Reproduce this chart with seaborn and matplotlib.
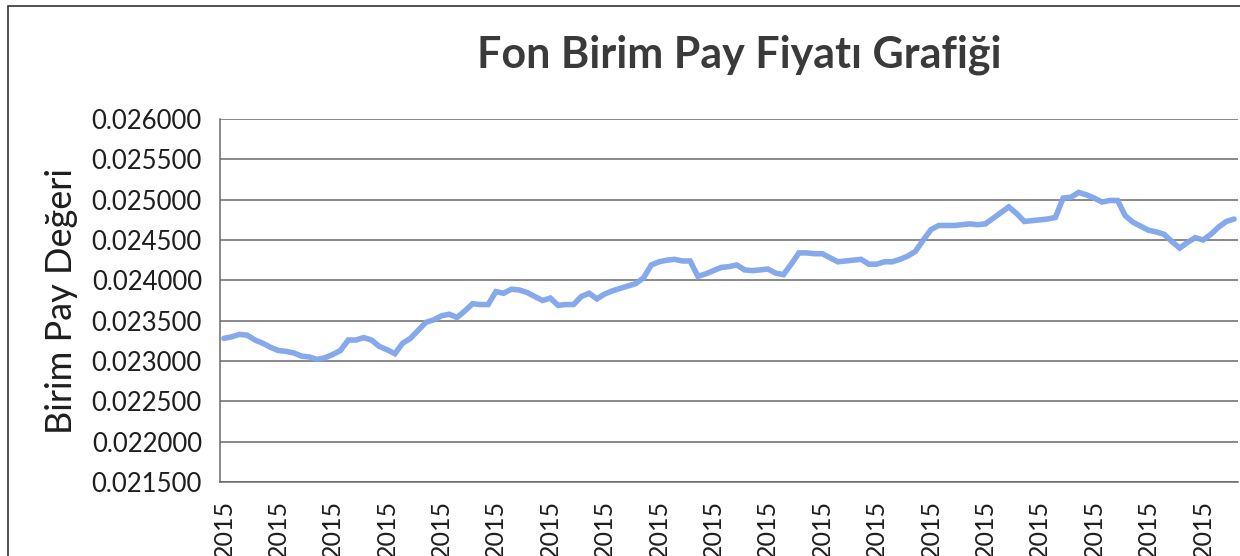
import matplotlib
matplotlib.use("Agg")
import matplotlib.pyplot as plt
import numpy as np
import pandas as pd
import seaborn as sns
from matplotlib.patches import Rectangle

sns.set_theme(style="white")
plt.rcParams["font.family"] = ["Lato", "DejaVu Sans"]

# ──────────────────────────────────────────────
# データ
# ──────────────────────────────────────────────
prices = [
    0.02328, 0.02330, 0.02333, 0.02332, 0.02326, 0.02322, 0.02317, 0.02313, 0.02312, 0.02310,
    0.02306, 0.02305, 0.02302, 0.02304, 0.02308, 0.02313, 0.02326, 0.02326, 0.02329, 0.02326,
    0.02318, 0.02314, 0.02309, 0.02322, 0.02328, 0.02338, 0.02348, 0.02351, 0.02356, 0.02358,
    0.02354, 0.02362, 0.02371, 0.02370, 0.02370, 0.02386, 0.02384, 0.02389, 0.02388, 0.02385,
    0.02380, 0.02375, 0.02378, 0.02369, 0.02370, 0.02370, 0.02380, 0.02384, 0.02377, 0.02383,
    0.02387, 0.02390, 0.02393, 0.02396, 0.02403, 0.02419, 0.02423, 0.02425, 0.02426, 0.02424,
    0.02424, 0.02405, 0.02408, 0.02412, 0.02416, 0.02417, 0.02419, 0.02413, 0.02412, 0.02413,
    0.02414, 0.02409, 0.02407, 0.02420, 0.02434, 0.02434, 0.02433, 0.02433, 0.02428, 0.02423,
    0.02424, 0.02425, 0.02426, 0.02420, 0.02420, 0.02423, 0.02423, 0.02426, 0.02430, 0.02436,
    0.02450, 0.02463, 0.02468, 0.02468, 0.02468, 0.02469, 0.02470, 0.02469, 0.02470, 0.02477,
    0.02484, 0.02491, 0.02483, 0.02473, 0.02474, 0.02475, 0.02476, 0.02478, 0.02502, 0.02503,
    0.02509, 0.02506, 0.02502, 0.02497, 0.02499, 0.02499, 0.02480, 0.02472, 0.02467, 0.02462,
    0.02460, 0.02457, 0.02448, 0.02440, 0.02447, 0.02453, 0.02450, 0.02457, 0.02466, 0.02473,
    0.02476,
]
label_step = 7
year_label = "2015"
y_ticks = [0.0215, 0.0220, 0.0225, 0.0230, 0.0235, 0.0240, 0.0245, 0.0250, 0.0255, 0.0260]

df = pd.DataFrame({"idx": np.arange(len(prices)), "price": prices})

fig = plt.figure(figsize=(12.4, 5.56), dpi=100)
ax = fig.add_axes([220 / 1240, 74 / 556, 1018 / 1240, 363 / 556])

sns.lineplot(data=df, x="idx", y="price", ax=ax, color="#7fa5ea", linewidth=4.0,
             solid_joinstyle="miter", alpha=0.95)

ax.set_xlim(-0.5, len(prices) - 0.5)
ax.set_ylim(y_ticks[0], y_ticks[-1])
ax.set_yticks(y_ticks)
ax.set_yticklabels([f"{t:.6f}" for t in y_ticks], fontsize=18.5, color="#1e1e1e")

xt = list(range(0, len(prices), label_step))
ax.set_xticks(xt)
ax.set_xticklabels([year_label] * len(xt), rotation=90, fontsize=18, color="#1e1e1e",
                   va="top")
ax.tick_params(axis="x", length=0, pad=13)
ax.tick_params(axis="y", length=0, pad=13)

ax.grid(axis="y", color="#6a6a6a", linewidth=1.1)
ax.set_axisbelow(True)
for side in ["top", "right"]:
    ax.spines[side].set_visible(False)
ax.spines["left"].set_color("#6a6a6a")
ax.spines["bottom"].set_color("#6a6a6a")
ax.spines["left"].set_linewidth(1.1)
ax.spines["bottom"].set_linewidth(1.1)

ax.set_xlabel("")
ax.set_ylabel("Birim Pay Değeri", fontsize=26, color="#1e1e1e", labelpad=10)

fig.text(739 / 1240, 1 - 55 / 556, "Fon Birim Pay Fiyatı Grafiği", ha="center", va="center",
         fontsize=31, fontweight="bold", color="#3a3a3a")

# チャート外枠
fig.patches.append(Rectangle((8 / 1240, -0.1), 1.2, 1.1 - 6 / 556, transform=fig.transFigure,
                             fill=False, edgecolor="#333333", linewidth=1.2))

fig.savefig("out.png", dpi=100)
plt.close(fig)
